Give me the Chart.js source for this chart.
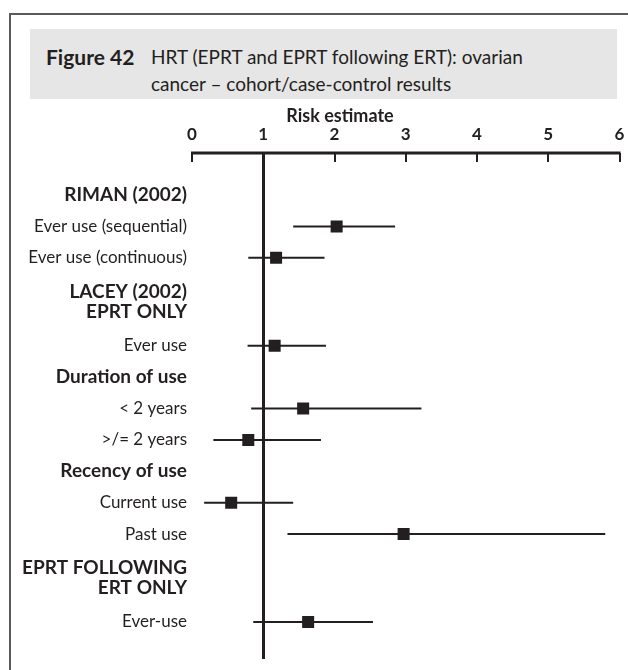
<!DOCTYPE html>
<html>
<head>
<meta charset="utf-8">
<title>Figure 42</title>
<script src="https://cdn.jsdelivr.net/npm/chart.js@4"></script>
<style>
  html, body { margin: 0; padding: 0; background: #fff; }
  body { width: 628px; height: 670px; position: relative; overflow: hidden; font-family: Lato, "Open Sans", sans-serif; color: #231f20; }
  .frame { position: absolute; left: 9px; top: 13px; right: -4px; bottom: -4px; border-left: 2px solid #5a5a5a; border-top: 2px solid #5a5a5a; }
  .caption { position: absolute; left: 30px; top: 29px; width: 587px; height: 70px; background: #e6e6e6; }
  .caption .num { position: absolute; left: 16px; top: 14px; font-weight: 700; font-size: 21px; line-height: 27px; }
  .caption .txt { position: absolute; left: 121px; top: 14px; font-size: 19px; line-height: 27px; }
  .axis-title { position: absolute; left: 340px; top: 104px; transform: translateX(-50%); font-weight: 700; font-size: 18px; line-height: 22px; white-space: nowrap; z-index: 2; }
  #chart { position: absolute; left: 0; top: 100px; }
</style>
</head>
<body>
<div class="frame"></div>
<div class="caption">
  <div class="num">Figure 42</div>
  <div class="txt">HRT (EPRT and EPRT following ERT): ovarian<br>cancer – cohort/case-control results</div>
</div>
<div class="axis-title">Risk estimate</div>
<canvas id="chart" width="628" height="570"></canvas>
<script>
// Rows of the forest plot, top to bottom. Headers have no estimate.
const rowLabels = [
  'RIMAN (2002)',
  'Ever use (sequential)',
  'Ever use (continuous)',
  ['LACEY (2002)', 'EPRT ONLY'],
  'Ever use',
  'Duration of use',
  '< 2 years',
  '>/= 2 years',
  'Recency of use',
  'Current use',
  'Past use',
  ['EPRT FOLLOWING', 'ERT ONLY'],
  'Ever-use'
];
const headerRows = [true, false, false, true, false, true, false, false, true, false, false, true, false];

// Risk estimates with lower / upper confidence limits
const estimate = [null, 2.03, 1.18, null, 1.16, null, 1.56, 0.79, null, 0.55, 2.97, null, 1.63];
const lower    = [null, 1.42, 0.79, null, 0.78, null, 0.83, 0.30, null, 0.17, 1.34, null, 0.86];
const upper    = [null, 2.85, 1.86, null, 1.88, null, 3.22, 1.81, null, 1.42, 5.80, null, 2.54];

// Risk axis tick labels
const riskTicks = [0, 1, 2, 3, 4, 5, 6];

const ink = '#231f20';

// Vertical slot of each row: two-line headers get extra room around them
const rowPos = [];
rowLabels.forEach((lab, i) => {
  if (i === 0) { rowPos.push(0); return; }
  const tall = Array.isArray(lab) || Array.isArray(rowLabels[i - 1]);
  rowPos.push(rowPos[i - 1] + (tall ? 1.4 : 1));
});
const lastRow = rowPos[rowPos.length - 1];

const squares = {
  type: 'scatter',
  data: estimate.map((v, i) => v === null ? null : { x: v, y: rowPos[i] }).filter(p => p),
  pointStyle: 'rect',
  pointRadius: 8.5,
  pointHoverRadius: 8.5,
  backgroundColor: ink,
  borderWidth: 0
};

const intervals = estimate.map((v, i) => v === null ? null : {
  type: 'line',
  data: [{ x: lower[i], y: rowPos[i] }, { x: upper[i], y: rowPos[i] }],
  borderColor: ink,
  borderWidth: 2,
  pointRadius: 0,
  fill: false
}).filter(d => d);

// Axis line with inward ticks, and the no-effect line at 1
const riskAxis = {
  id: 'riskAxis',
  beforeDatasetsDraw(chart) {
    const { ctx, chartArea } = chart;
    const x = chart.scales.x;
    const top = chartArea.top;
    ctx.save();
    ctx.strokeStyle = ink;
    ctx.lineCap = 'butt';
    ctx.lineWidth = 3;
    ctx.beginPath();
    ctx.moveTo(x.getPixelForValue(riskTicks[0]) - 1, top);
    ctx.lineTo(x.getPixelForValue(riskTicks[riskTicks.length - 1]) + 1, top);
    ctx.stroke();
    ctx.lineWidth = 2;
    riskTicks.forEach(v => {
      const px = Math.round(x.getPixelForValue(v));
      ctx.beginPath();
      ctx.moveTo(px, top);
      ctx.lineTo(px, top + 9);
      ctx.stroke();
    });
    ctx.lineWidth = 3;
    const one = Math.round(x.getPixelForValue(1)) + 0.5;
    ctx.beginPath();
    ctx.moveTo(one, top);
    ctx.lineTo(one, chartArea.bottom);
    ctx.stroke();
    ctx.restore();
  }
};

// Keep label overhang from shrinking the plot; layout padding covers it
const noOverhang = s => { s.paddingTop = 0; s.paddingBottom = 0; s.paddingLeft = 0; s.paddingRight = 0; };

new Chart(document.getElementById('chart'), {
  type: 'scatter',
  data: { datasets: [squares, ...intervals] },
  plugins: [riskAxis],
  options: {
    responsive: false,
    devicePixelRatio: 1,
    animation: false,
    events: [],
    layout: { padding: { left: 0, right: 7, top: 0, bottom: 11 } },
    plugins: { legend: { display: false }, tooltip: { enabled: false } },
    scales: {
      x: {
        type: 'linear',
        position: 'top',
        min: riskTicks[0],
        max: riskTicks[riskTicks.length - 1],
        afterBuildTicks: s => { s.ticks = riskTicks.map(v => ({ value: v })); },
        afterFit: s => { s.height = 53; noOverhang(s); },
        grid: { display: false, drawTicks: false },
        border: { display: false },
        ticks: {
          color: ink,
          padding: 8,
          maxRotation: 0,
          font: { family: 'Lato', weight: 'bold', size: 17, lineHeight: 1.2 },
          callback: v => String(v)
        }
      },
      y: {
        type: 'linear',
        reverse: true,
        min: -1.338,
        max: lastRow + 1.178,
        afterBuildTicks: s => { s.ticks = rowPos.map(v => ({ value: v })); },
        afterFit: s => { s.width = 192; noOverhang(s); },
        grid: { display: false, drawTicks: false },
        border: { display: false },
        ticks: {
          color: ink,
          padding: 5,
          autoSkip: false,
          callback: (v, i) => rowLabels[i],
          font: ctx => headerRows[ctx.index]
            ? { family: 'Lato', size: 19, lineHeight: 1.05, weight: 'bold' }
            : { family: 'Lato', size: 17, lineHeight: 1.2, weight: 'normal' }
        }
      }
    }
  }
});
</script>
</body>
</html>
